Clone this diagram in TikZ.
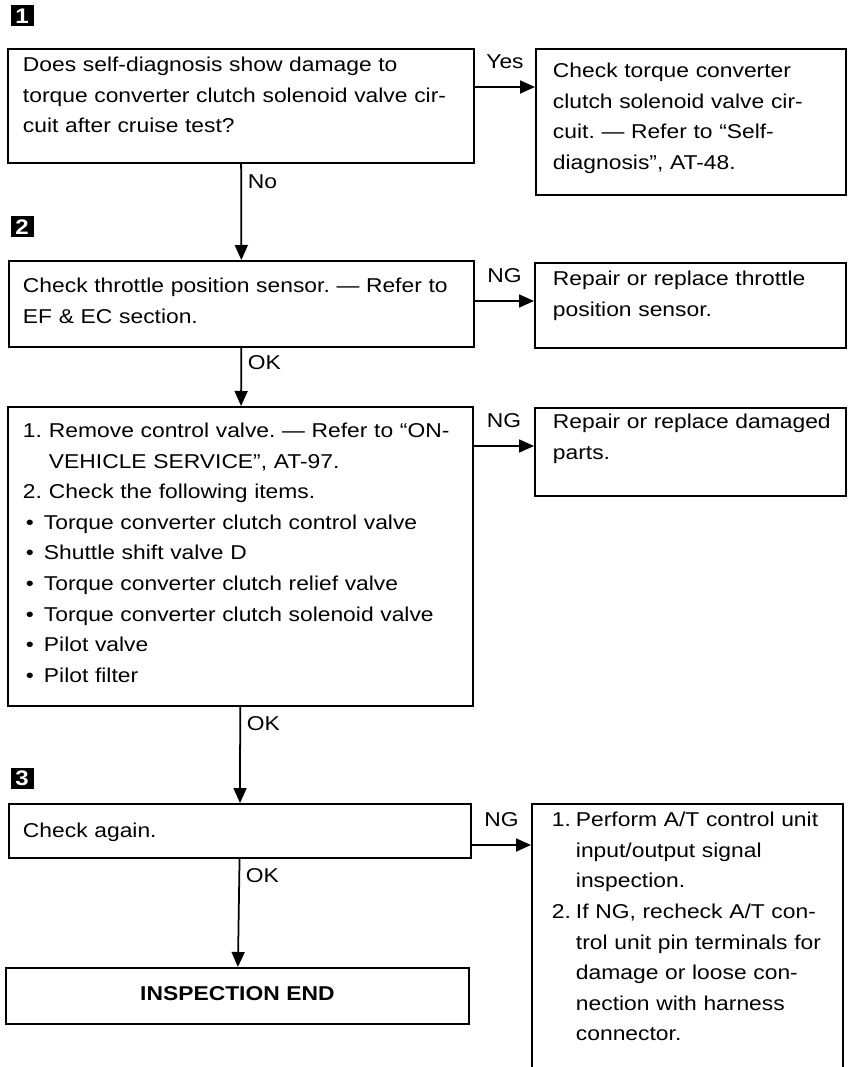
\documentclass[tikz,border=0pt]{standalone}
\usepackage{fontspec}
\setmainfont{Liberation Sans}[FakeStretch=1.14]
\usepackage{tikz}
\usetikzlibrary{arrows.meta,positioning}
\newcommand{\txtfont}{\fontsize{11.4}{17.36}\selectfont\hyphenpenalty=10000\frenchspacing}
\newcommand{\itemlbl}[2][0.52cm]{\makebox[#1][l]{#2}}
\newcommand{\itemind}[1][0.52cm]{\hspace*{#1}}
\tikzset{
  blk/.style={draw=black,line width=1.1pt,anchor=north west,align=left,
              inner ysep=0pt,font=\txtfont},
  arr/.style={-{Triangle[length=0.3cm,width=0.26cm]},line width=1pt},
  lbl/.style={font=\txtfont,inner sep=1pt},
  badge/.style={fill=black,text=white,font=\fontsize{12}{12}\selectfont\bfseries,
                minimum width=0.46cm,minimum height=0.42cm,inner sep=0pt},
}
\begin{document}
\begin{tikzpicture}
\useasboundingbox (0,0) rectangle (17,-21.34);
% step numbers
\node[badge] (s1) at (0.44,-0.32) {1};
\node[badge] (s2) at (0.44,-4.54) {2};
\node[badge] (s3) at (0.44,-15.56) {3};
% main column
\node[blk,text width=8.72cm,inner xsep=0.3cm,text height=0.46cm,text depth=1.82cm] (q1) at (0.14,-0.96)
  {Does self-diagnosis show damage to\\torque converter clutch solenoid valve cir-\\cuit after cruise test?};
\node[blk,text width=8.74cm,inner xsep=0.28cm,text height=0.64cm,text depth=1.08cm] (q2) at (0.16,-5.20)
  {Check throttle position sensor. — Refer to\\EF \& EC section.};
\node[blk,text width=8.70cm,inner xsep=0.3cm,text height=0.62cm,text depth=5.36cm] (q3) at (0.14,-8.12)
  {\itemlbl{1.}Remove control valve. — Refer to “ON-\\
   \itemind VEHICLE SERVICE”, AT-97.\\
   \itemlbl{2.}Check the following items.\\
   \itemlbl[0.42cm]{\hspace{0.06cm}\textbullet}Torque converter clutch control valve\\
   \itemlbl[0.42cm]{\hspace{0.06cm}\textbullet}Shuttle shift valve D\\
   \itemlbl[0.42cm]{\hspace{0.06cm}\textbullet}Torque converter clutch relief valve\\
   \itemlbl[0.42cm]{\hspace{0.06cm}\textbullet}Torque converter clutch solenoid valve\\
   \itemlbl[0.42cm]{\hspace{0.06cm}\textbullet}Pilot valve\\
   \itemlbl[0.42cm]{\hspace{0.06cm}\textbullet}Pilot filter};
\node[blk,text width=8.68cm,inner xsep=0.28cm,text height=0.68cm,text depth=0.40cm] (q4) at (0.16,-16.06)
  {Check again.};
\node[blk,align=center,text width=8.66cm,inner xsep=0.3cm,text height=0.66cm,text depth=0.46cm,
      font=\txtfont\bfseries] (done) at (0.10,-19.34) {INSPECTION END};
% right column
\node[blk,text width=5.52cm,inner xsep=0.34cm,text height=0.58cm,text depth=2.34cm] (yes1) at (10.70,-0.96)
  {Check torque converter\\clutch solenoid valve cir-\\cuit. — Refer to “Self-\\diagnosis”, AT-48.};
\node[blk,text width=5.50cm,inner xsep=0.36cm,text height=0.46cm,text depth=1.24cm] (ng2) at (10.68,-5.24)
  {\mbox{Repair or replace throttle}\\position sensor.};
\node[blk,text width=5.50cm,inner xsep=0.36cm,text height=0.42cm,text depth=1.34cm] (ng3) at (10.68,-8.14)
  {\mbox{Repair or replace damaged}\\parts.};
\node[blk,text width=6.02cm,inner xsep=0.1cm,text height=0.46cm,text depth=4.98cm] (ng4) at (10.62,-16.06)
  {\hspace*{0.3cm}\itemlbl[0.48cm]{1.}Perform A/T control unit\\
   \itemind[0.78cm]input/output signal\\
   \itemind[0.78cm]inspection.\\
   \hspace*{0.3cm}\itemlbl[0.48cm]{2.}\mbox{If NG, recheck A/T con-}\\
   \itemind[0.78cm]\mbox{trol unit pin terminals for}\\
   \itemind[0.78cm]damage or loose con-\\
   \itemind[0.78cm]nection with harness\\
   \itemind[0.78cm]connector.};
% downward flow
\draw[arr] (q1) -- node[lbl,pos=0.18,anchor=west,xshift=0.08cm]{No} (q2);
\draw[arr] (q2) -- node[lbl,pos=0.26,anchor=west,xshift=0.08cm]{OK} (q3);
\draw[arr] (q3) -- node[lbl,pos=0.17,anchor=west,xshift=0.08cm]{OK} (q4);
\draw[arr] (q4) -- node[lbl,pos=0.15,anchor=west,xshift=0.08cm]{OK} (done);
% side branches
\coordinate (b1) at ([yshift=-0.78cm]q1.north east);
\coordinate (b2) at ([yshift=-0.82cm]q2.north east);
\coordinate (b3) at ([yshift=-0.80cm]q3.north east);
\coordinate (b4) at ([yshift=-0.84cm]q4.north east);
\draw[arr] (b1) -- node[lbl,above=0.32cm]{Yes} (b1 -| yes1.west);
\draw[arr] (b2) -- node[lbl,above=0.32cm]{NG} (b2 -| ng2.west);
\draw[arr] (b3) -- node[lbl,above=0.32cm]{NG} (b3 -| ng3.west);
\draw[arr] (b4) -- node[lbl,above=0.32cm]{NG} (b4 -| ng4.west);
\end{tikzpicture}
\end{document}
